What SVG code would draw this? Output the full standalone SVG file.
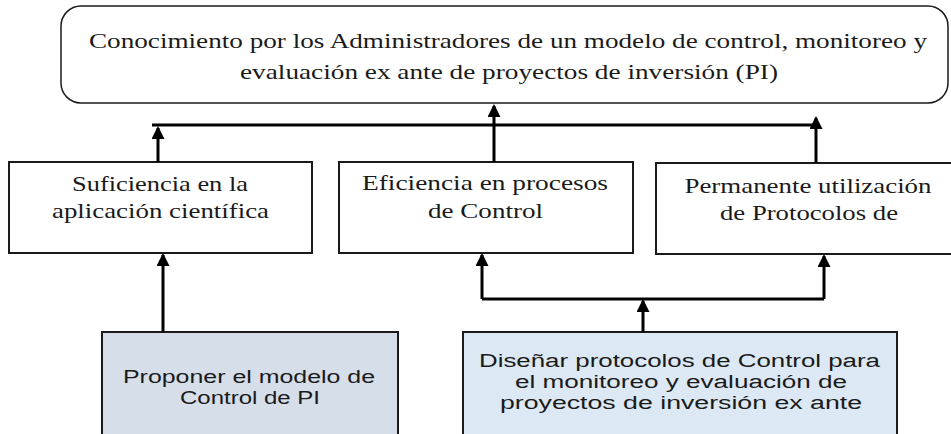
<svg xmlns="http://www.w3.org/2000/svg" width="951" height="434" viewBox="0 0 951 434">
  <style>
    .box { fill: #ffffff; stroke: #1a1a1a; stroke-width: 2; }
    .serif { font-family: "Liberation Serif", "Times New Roman", serif; font-size: 22px; fill: #1a1a1a; text-anchor: middle; }
    .sans { font-family: "Liberation Sans", Arial, sans-serif; font-size: 18px; fill: #1a1a1a; text-anchor: middle; }
    .conn { fill: none; stroke: #000000; stroke-width: 3; }
  </style>
  <defs>
    <marker id="arrow" markerUnits="userSpaceOnUse" markerWidth="14" markerHeight="14" refX="11" refY="6.5" orient="auto">
      <path d="M0,0 L13,6.5 L0,13 z" fill="#000000"/>
    </marker>
  </defs>
  <rect width="951" height="434" fill="#ffffff"/>

  <g id="node-top">
    <rect class="box" x="61" y="6" width="887" height="97" rx="20" ry="20" style="stroke-width:1.5"/>
    <text class="serif" x="508" y="48" textLength="838" lengthAdjust="spacingAndGlyphs">Conocimiento por los Administradores de un modelo de control, monitoreo y</text>
    <text class="serif" x="509" y="79" textLength="538" lengthAdjust="spacingAndGlyphs">evaluación ex ante de proyectos de inversión (PI)</text>
  </g>

  <g id="node-suficiencia">
    <rect class="box" x="9" y="162" width="303" height="91"/>
    <text class="serif" x="160" y="191" textLength="176" lengthAdjust="spacingAndGlyphs">Suficiencia en la</text>
    <text class="serif" x="160.5" y="218" textLength="217" lengthAdjust="spacingAndGlyphs">aplicación científica</text>
  </g>

  <g id="node-eficiencia">
    <rect class="box" x="339" y="162" width="294" height="91"/>
    <text class="serif" x="485" y="190" textLength="246" lengthAdjust="spacingAndGlyphs">Eficiencia en procesos</text>
    <text class="serif" x="485.5" y="218" textLength="115" lengthAdjust="spacingAndGlyphs">de Control</text>
  </g>

  <g id="node-permanente">
    <rect class="box" x="656" y="163" width="300" height="91"/>
    <text class="serif" x="808" y="193" textLength="247" lengthAdjust="spacingAndGlyphs">Permanente utilización</text>
    <text class="serif" x="809" y="220" textLength="178" lengthAdjust="spacingAndGlyphs">de Protocolos de</text>
  </g>

  <g id="node-proponer">
    <rect class="box" x="102" y="332" width="296" height="110" style="fill:#d6deea"/>
    <text class="sans" x="249" y="383" textLength="252" lengthAdjust="spacingAndGlyphs">Proponer el modelo de</text>
    <text class="sans" x="250" y="404" textLength="140" lengthAdjust="spacingAndGlyphs">Control de PI</text>
  </g>

  <g id="node-disenar">
    <rect class="box" x="463" y="332" width="434" height="110" style="fill:#dce8f3"/>
    <text class="sans" x="679.5" y="367" textLength="401" lengthAdjust="spacingAndGlyphs">Diseñar protocolos de Control para</text>
    <text class="sans" x="681" y="388" textLength="332" lengthAdjust="spacingAndGlyphs">el monitoreo y evaluación de</text>
    <text class="sans" x="681" y="409" textLength="362" lengthAdjust="spacingAndGlyphs">proyectos de inversión ex ante</text>
  </g>

  <g id="connectors">
    <line class="conn" x1="152" y1="125" x2="818" y2="125"/>
    <line class="conn" x1="158" y1="162" x2="158" y2="128" marker-end="url(#arrow)"/>
    <line class="conn" x1="494" y1="162" x2="494" y2="106" marker-end="url(#arrow)"/>
    <line class="conn" x1="816" y1="163" x2="816" y2="118" marker-end="url(#arrow)"/>
    <line class="conn" x1="163" y1="332" x2="163" y2="255" marker-end="url(#arrow)"/>
    <polyline class="conn" points="824,299 482,299"/>
    <line class="conn" x1="482" y1="299" x2="482" y2="255" marker-end="url(#arrow)"/>
    <line class="conn" x1="824" y1="299" x2="824" y2="256" marker-end="url(#arrow)"/>
    <line class="conn" x1="643" y1="332" x2="643" y2="301" marker-end="url(#arrow)"/>
  </g>
</svg>
